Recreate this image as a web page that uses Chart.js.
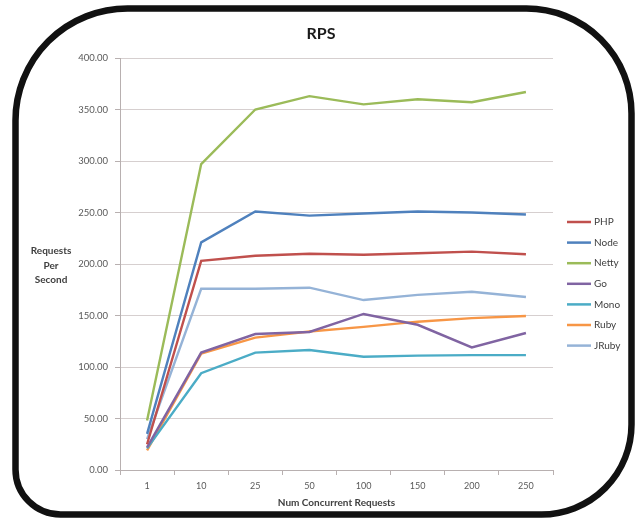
<!DOCTYPE html>
<html>
<head>
<meta charset="utf-8">
<script src="https://cdn.jsdelivr.net/npm/chart.js@4/dist/chart.umd.min.js"></script>
<style>
  html, body { margin: 0; padding: 0; background: #ffffff; }
  #wrap { width: 642px; height: 518px; }
</style>
</head>
<body>
<div id="wrap"><canvas id="rps" width="642" height="518"></canvas></div>
<script>
// Concurrency levels on the x axis
const categories = ['1', '10', '25', '50', '100', '150', '200', '250'];

// Requests per second for each server stack
const php   = [25, 203, 208, 210, 209, 210.5, 212, 209.5];
const node  = [35, 221, 251, 247, 249, 251, 250, 248];
const netty = [48, 297, 350, 363, 355, 360, 357, 367];
const go    = [22, 114, 132, 134, 151.5, 141, 119, 133];
const mono  = [21, 94, 114, 116.5, 110, 111, 111.5, 111.5];
const ruby  = [19, 113, 128.5, 134.5, 139, 144, 147.5, 149.5];
const jruby = [30, 176, 176, 177, 165, 170, 173, 168];

const seriesNames  = ['PHP', 'Node', 'Netty', 'Go', 'Mono', 'Ruby', 'JRuby'];
const seriesValues = [php, node, netty, go, mono, ruby, jruby];
const seriesColors = ['#C0504D', '#4F81BD', '#9BBB59', '#8064A2', '#4BACC6', '#F79646', '#95B3D7'];

// Value axis range and tick step
const yMin = 0, yMax = 400, yStep = 50;

const yTitleLines = ['Requests', 'Per', 'Second'];
const FONT = 'Lato, "Liberation Sans", sans-serif';

// Rounded black frame around the whole chart
const framePlugin = {
  id: 'frame',
  afterDraw(chart) {
    const ctx = chart.ctx;
    const L = 15.5, T = 8.5, R = 631.5, B = 514.5;
    const rTL = 112, rTR = 105, rBR = 90, rBL = 45;
    ctx.save();
    ctx.beginPath();
    ctx.moveTo(L + rTL, T);
    ctx.lineTo(R - rTR, T);
    ctx.arcTo(R, T, R, T + rTR, rTR);
    ctx.lineTo(R, B - rBR);
    ctx.arcTo(R, B, R - rBR, B, rBR);
    ctx.lineTo(L + rBL, B);
    ctx.arcTo(L, B, L, B - rBL, rBL);
    ctx.lineTo(L, T + rTL);
    ctx.arcTo(L, T, L + rTL, T, rTL);
    ctx.closePath();
    ctx.lineWidth = 6.5;
    ctx.strokeStyle = '#111111';
    ctx.stroke();
    ctx.restore();
  }
};

// Stacked, horizontal value-axis title at the left
const yTitlePlugin = {
  id: 'yTitle',
  afterDraw(chart) {
    const ctx = chart.ctx;
    ctx.save();
    ctx.font = 'bold 10px ' + FONT;
    ctx.fillStyle = '#404040';
    ctx.textAlign = 'center';
    ctx.textBaseline = 'middle';
    yTitleLines.forEach((t, i) => ctx.fillText(t, 51, 251 + i * 14.5));
    ctx.restore();
  }
};

// Legend column on the right with short line samples
const sideLegendPlugin = {
  id: 'sideLegend',
  afterDraw(chart) {
    const ctx = chart.ctx;
    ctx.save();
    ctx.font = '10px ' + FONT;
    ctx.textAlign = 'left';
    ctx.textBaseline = 'middle';
    chart.data.datasets.forEach((ds, i) => {
      const y = 222 + i * 20.6;
      ctx.beginPath();
      ctx.moveTo(567, y);
      ctx.lineTo(591, y);
      ctx.lineWidth = 2.5;
      ctx.strokeStyle = ds.borderColor;
      ctx.stroke();
      ctx.fillStyle = '#404040';
      ctx.fillText(ds.label, 594, y);
    });
    ctx.restore();
  }
};

new Chart(document.getElementById('rps'), {
  type: 'line',
  data: {
    labels: categories,
    datasets: seriesNames.map((name, i) => ({
      label: name,
      data: seriesValues[i],
      borderColor: seriesColors[i],
      backgroundColor: seriesColors[i],
      borderWidth: 2.4,
      pointRadius: 0,
      tension: 0,
      fill: false,
      yAxisID: 'y'
    }))
  },
  options: {
    responsive: false,
    animation: false,
    devicePixelRatio: 1,
    layout: { padding: 0 },
    plugins: {
      legend: { display: false },
      tooltip: { enabled: false },
      title: {
        display: true,
        text: 'RPS',
        color: '#1a1a1a',
        font: { family: FONT, size: 16, weight: 'bold' },
        padding: { top: 24, bottom: 14.8 }
      }
    },
    scales: {
      x: {
        offset: true,
        grid: {
          offset: true,
          drawOnChartArea: false,
          drawTicks: true,
          tickLength: 5,
          color: '#b8b0b0'
        },
        border: { display: true, color: '#b8b0b0', width: 1 },
        ticks: {
          color: '#595959',
          font: { family: FONT, size: 9 },
          padding: 6,
          maxRotation: 0,
          autoSkip: false
        },
        title: {
          display: true,
          text: 'Num Concurrent Requests',
          color: '#404040',
          font: { family: FONT, size: 10, weight: 'bold' },
          padding: { top: 0, bottom: 9 }
        },
        afterFit(scale) { scale.height = 48; }
      },
      y: {
        position: 'left',
        min: yMin,
        max: yMax,
        grid: {
          color: '#d6cfcf',
          lineWidth: 1,
          drawTicks: true,
          tickLength: 5,
          tickColor: '#b8b0b0'
        },
        border: { display: true, color: '#b8b0b0', width: 1 },
        ticks: {
          stepSize: yStep,
          color: '#595959',
          font: { family: FONT, size: 9.5 },
          padding: 7,
          callback: (v) => Number(v).toFixed(2)
        },
        afterFit(scale) { scale.width = 120; }
      },
      // empty right-hand gutter that holds the legend column
      gutter: {
        position: 'right',
        display: true,
        grid: { display: false },
        border: { display: false },
        ticks: { display: false },
        afterFit(scale) { scale.width = 89; }
      }
    }
  },
  plugins: [framePlugin, yTitlePlugin, sideLegendPlugin]
});
</script>
</body>
</html>
